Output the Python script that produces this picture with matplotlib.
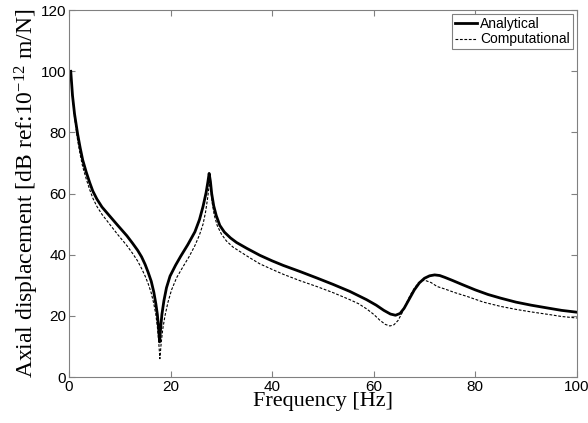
import matplotlib.pyplot as plt

plt.rcParams['mathtext.fontset'] = 'custom'
plt.rcParams['mathtext.rm'] = 'Liberation Serif'
plt.rcParams['mathtext.it'] = 'Liberation Serif:italic'

# values
freq_an = [0.35, 0.7, 1.1, 1.7, 2.2, 2.7, 3.4, 4.1, 4.7, 5.5, 6.5, 8.1,
           9.5, 11.4, 12.5, 13.5, 14.3, 15, 15.6, 16.2, 16.7, 17.1, 17.4, 17.65, 17.85,
           18.05, 18.3, 18.7, 19.2, 19.9, 21, 22, 23.4, 24.8, 25.7, 26.4, 27.0, 27.35,
           27.6, 27.85, 28.1, 28.5, 29, 29.7, 30.6, 31.8, 33, 35, 37.6, 40, 42.2, 45.5,
           48.8, 52, 55.3, 58.6, 60.5, 62, 63.3, 64.3, 65.2, 66, 67, 68, 69, 70, 71, 72,
           73, 74, 75.5, 77.5, 80, 82.5, 85, 88, 91, 94.5, 97, 100]
disp_an = [100, 92, 86, 79.5, 75, 71, 67, 63.5, 60.8, 58.2, 55.6, 52.5,
           49.8, 46.2, 43.8, 41.5, 39.3, 36.8, 34.2, 31.3, 27.8, 24, 20.5, 16, 11.5,
           16, 20.5, 25, 29.2, 33, 36.6, 39.5, 43.3, 47.5, 51.5, 55.8, 60.3, 63.8,
           66.6, 64, 60, 56, 52.8, 49.6, 47.4, 45.5, 44, 42.1, 39.8, 38.0, 36.5, 34.5,
           32.4, 30.3, 28, 25.3, 23.5, 21.8, 20.6, 20.2, 20.8, 22.5, 25.5, 28.5, 30.8, 32.3,
           33.1, 33.4, 33.2, 32.6, 31.6, 30.2, 28.5, 27, 25.8, 24.5, 23.5, 22.5, 21.8, 21.2]

freq_comp = [0.35, 0.7, 1.1, 1.7, 2.2, 2.7, 3.4, 4.1, 4.7, 5.5, 6.5, 8.1,
             9.5, 11.4, 12.5, 13.5, 14.3, 15, 15.6, 16.2, 16.7, 17.1, 17.4, 17.65, 17.9,
             18.15, 18.45, 18.9, 19.5, 20.2, 21.2, 22.5, 23.7, 24.8, 25.7, 26.4, 26.9,
             27.3, 27.7, 27.95, 28.2, 28.6, 29.2, 30, 31, 32.3, 33.8, 35.6, 37.6, 40,
             42.2, 45.5, 48.8, 52, 55.3, 57, 58.6, 60, 61.2, 62.3, 63.2, 64, 64.8, 65.6,
             66.4, 67.2, 68, 68.8, 69.5, 70.3, 71.3, 72.5, 74, 76, 78.5, 81.6, 85, 88.1,
             91, 94.7, 97, 100]
disp_comp = [100, 91.5, 85, 77.5, 72.8, 68.8, 64.8, 61.2, 58.5, 55.8, 53.2, 49.8,
             46.8, 43, 40.5, 38, 35.5, 33, 30.5, 27.5, 24, 20.5, 16.5, 12, 6,
             11, 15.5, 20, 24.5, 28.5, 32.5, 36.2, 39.5, 43, 46.5, 50, 54,
             58.5, 64, 61, 57, 53, 49.5, 46.8, 44.5, 42.5, 40.9, 39, 37, 35.2,
             33.6, 31.5, 29.6, 27.6, 25.3, 24, 22.3, 20.5, 18.6, 17.2, 16.7, 17.1, 18.5, 21,
             24, 26.8, 29, 30.8, 31.6, 31.5, 30.9, 29.6, 28.8, 27.6, 26.3, 24.5, 23.1, 22.1,
             21.3, 20.4, 19.8, 19.3]

fig = plt.figure(figsize=(5.88, 4.23), dpi=100)
ax = fig.add_axes([0.1173, 0.1087, 0.8637, 0.8673])

ax.plot(freq_an, disp_an, color="black", lw=2.0, label="Analytical")
ax.plot(freq_comp, disp_comp, color="black", lw=0.8, dashes=(2.5, 1.5), label="Computational")

ax.set_xlim(0, 100)
ax.set_ylim(0, 120)
ax.set_xticks([0, 20, 40, 60, 80, 100])
ax.set_yticks([0, 20, 40, 60, 80, 100, 120])
ax.tick_params(direction="in", top=True, right=True, length=4, color="#808080",
               labelsize=11, pad=2)
for lab in ax.get_xticklabels() + ax.get_yticklabels():
    lab.set_family("Liberation Sans")
for sp in ax.spines.values():
    sp.set_color("#808080")
    sp.set_linewidth(0.8)

ax.set_xlabel("Frequency [Hz]", family="Liberation Serif", fontsize=16, labelpad=-1)
ax.set_ylabel("Axial displacement [dB ref:10$^{-12}$ m/N]", family="Liberation Serif",
              fontsize=17, labelpad=0)

leg = ax.legend(loc="upper right", prop={"family": "Liberation Sans", "size": 10},
                fancybox=False, framealpha=1, edgecolor="#808080", handlelength=1.6,
                handletextpad=0.2, borderaxespad=0.3, borderpad=0.2, labelspacing=0.1)
leg.get_frame().set_linewidth(0.8)

fig.savefig("out.png", dpi=100)
